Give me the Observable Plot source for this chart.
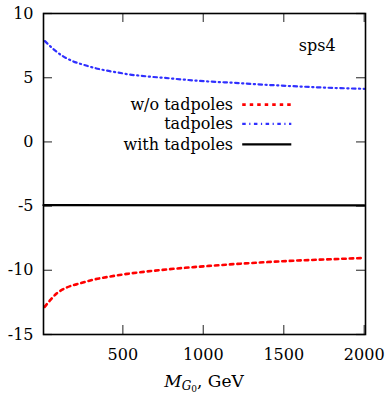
<!DOCTYPE html>
<html><head><meta charset="utf-8">
<script src="https://cdn.jsdelivr.net/npm/d3@7"></script>
<script src="https://cdn.jsdelivr.net/npm/@observablehq/plot@0.6"></script>
<style>
body{margin:0;background:#fff}
#chart svg, #chart svg text { font-family: "DejaVu Serif", serif !important; }
</style>
</head><body><div id="chart"></div>
<script>
// x values (GeV) and series values
const blueX = [16, 70, 126, 190, 260, 327, 400, 472, 540, 612, 685, 757, 825, 898, 975, 1100, 1180, 1315, 1460, 1605, 1750, 1895, 2000];
const blueY = [7.85, 7.21, 6.69, 6.28, 5.99, 5.75, 5.55, 5.40, 5.25, 5.15, 5.06, 4.99, 4.91, 4.83, 4.75, 4.66, 4.61, 4.50, 4.40, 4.31, 4.23, 4.17, 4.13];
const redX = [14, 50, 90, 150, 237, 320, 423, 527, 630, 734, 838, 941, 1024, 1190, 1397, 1605, 1812, 2000];
const redY = [-12.85, -12.31, -11.79, -11.35, -11.01, -10.72, -10.48, -10.28, -10.12, -9.98, -9.86, -9.75, -9.67, -9.52, -9.36, -9.23, -9.13, -9.04];
const blackX = [7, 2000];
const blackY = [-4.93, -4.95];
const xTicks = [500, 1000, 1500, 2000];
const yTicks = [-15, -10, -5, 0, 5, 10];
const legendLabels = ["w/o tadpoles", "tadpoles", "with tadpoles"];
const legendYs = [2.9, 1.4, -0.2];
const annotation = "sps4";

const blue = blueX.map((x, i) => ({x, y: blueY[i]}));
const red = redX.map((x, i) => ({x, y: redY[i]}));
const black = blackX.map((x, i) => ({x, y: blackY[i]}));
const legend = legendLabels.map((label, i) => ({label, y: legendYs[i]}));
const styles = [
  {stroke: "#ff0000", strokeWidth: 2.6, strokeDasharray: "3.5,4"},
  {stroke: "#3030ff", strokeWidth: 2.2, strokeDasharray: "3.5,3.5,1.2,3.5"},
  {stroke: "#000000", strokeWidth: 2.2, strokeDasharray: null}
];

const W = 385, H = 394;
const frameW = 385 - 43 - 20, frameH = 394 - 13 - 60;
const FONT = "DejaVu Serif, serif";
const plot = Plot.plot({
  width: W, height: H,
  marginLeft: 43, marginRight: 20, marginTop: 13, marginBottom: 60,
  style: {fontFamily: FONT, fontSize: "16px", background: "#fff", color: "#000"},
  x: {domain: [7, 2008], ticks: xTicks, tickFormat: d => String(d), tickSize: 0, tickPadding: 14, label: null},
  y: {domain: [-15, 10], ticks: yTicks, tickFormat: d => String(d), tickSize: 0, tickPadding: 10, label: null},
  marks: [
    Plot.tickY(yTicks, {y: d => d, stroke: "#555", strokeWidth: 1.3, insetRight: frameW - 9}),
    Plot.tickY(yTicks, {y: d => d, stroke: "#555", strokeWidth: 1.3, insetLeft: frameW - 9}),
    Plot.tickX(xTicks, {x: d => d, stroke: "#555", strokeWidth: 1.3, insetTop: frameH - 9}),
    Plot.tickX(xTicks, {x: d => d, stroke: "#555", strokeWidth: 1.3, insetBottom: frameH - 9}),
    Plot.line(black, {x: "x", y: "y", ...styles[2]}),
    Plot.line(blue, {x: "x", y: "y", curve: "monotone-x", ...styles[1]}),
    Plot.line(red, {x: "x", y: "y", curve: "monotone-x", ...styles[0]}),
    ...legend.map((d, i) => Plot.ruleY([d], {y: "y", x1: 1245, x2: 1550, ...styles[i]})),
    Plot.text(legend, {x: 1185, y: "y", text: "label", textAnchor: "end", fontSize: 16, fontFamily: FONT}),
    Plot.text([annotation], {x: 1822, y: 7.5, text: d => d, textAnchor: "end", fontSize: 16, fontFamily: FONT}),
    Plot.frame({stroke: "#000", strokeWidth: 1.6})
  ]
});
document.getElementById("chart").appendChild(plot);

const svg = d3.select(plot);
svg.attr("font-family", FONT);

// x-axis title with subscripts
const t = svg.append("text")
  .attr("x", 204).attr("y", 387)
  .attr("text-anchor", "middle")
  .style("font-family", FONT)
  .attr("font-size", 17);
t.append("tspan").attr("font-style", "italic").text("M");
t.append("tspan").attr("font-style", "italic").attr("font-size", 12).attr("dy", 3).text("G");
t.append("tspan").attr("font-size", 9).attr("dy", 2).text("0");
t.append("tspan").attr("dy", -5).text(", GeV");
</script>
</body></html>
